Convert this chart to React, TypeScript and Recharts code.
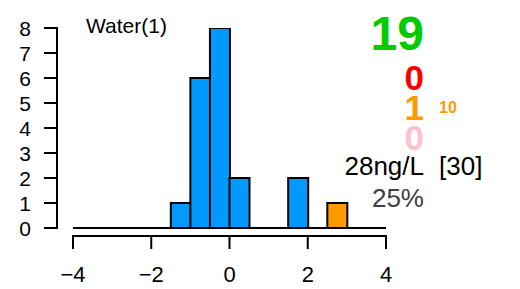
import { Bar, BarChart, Cell, ReferenceLine, XAxis, YAxis } from 'recharts';

// ----------------------
// DATA
// ----------------------
const binStarts = [-4, -3.5, -3, -2.5, -2, -1.5, -1, -0.5, 0, 0.5, 1, 1.5, 2, 2.5, 3, 3.5];
const binCounts = [0, 0, 0, 0, 0, 1, 6, 8, 2, 0, 0, 2, 0, 1, 0, 0];
const binKinds = ['n', 'n', 'n', 'n', 'n', 'n', 'n', 'n', 'n', 'n', 'n', 'n', 'n', 'o', 'n', 'n'];
const xTicks = [-4, -2, 0, 2, 4];
const yTicks = [0, 1, 2, 3, 4, 5, 6, 7, 8];

const title = 'Water(1)';
const totalCount = '19';
const redCount = '0';
const orangeCount = '1';
const orangeSub = '10';
const pinkCount = '0';
const concText = '28ng/L';
const bracketText = '[30]';
const pctText = '25%';

const KIND_COLORS: Record<string, string> = { n: '#0099ff', o: '#ff9900' };
const FONT = '"Liberation Sans", Arial, Helvetica, sans-serif';

// plot box (R-style: axes sit apart from the plot region)
const PLOT_LEFT = 73;
const PLOT_TOP = 28;
const PLOT_W = 313;
const PLOT_H = 200;
const Y_MAX = 8;
const AXIS_GAP_X = 8;
const AXIS_GAP_Y = 16;
const TICK_LEN = 13;

const data = binStarts.map((b, i) => ({ bin: b, count: binCounts[i], kind: binKinds[i] }));

const fmtX = (v: number) => (v < 0 ? `\u2212${Math.abs(v)}` : `${v}`);

// x tick: tick mark + label, tick -4 also draws the axis line
const XTick = ({ x, y, payload }: any) => {
  const ay = Number(y) + AXIS_GAP_X;
  const tx = Number(x);
  return (
    <g>
      {payload.value === xTicks[0] && <rect x={tx - 1} y={ay - 1} width={PLOT_W + 2} height={2} fill="#000" />}
      <rect x={tx - 1} y={ay} width={2} height={TICK_LEN} fill="#000" />
      <text x={tx} y={ay + 46} textAnchor="middle" fontSize={22} fontFamily={FONT} fill="#000">
        {fmtX(payload.value)}
      </text>
    </g>
  );
};

// y tick: tick mark + label, tick 0 also draws the axis line
const YTick = ({ x, y, payload }: any) => {
  const ax = Number(x) - AXIS_GAP_Y;
  const ty = Number(y);
  return (
    <g>
      {payload.value === 0 && <rect x={ax - 1} y={ty - PLOT_H - 1} width={2} height={PLOT_H + 2} fill="#000" />}
      <rect x={ax - TICK_LEN} y={ty - 1} width={TICK_LEN} height={2} fill="#000" />
      <text x={ax - 26} y={ty + 7.5} textAnchor="end" fontSize={21} fontFamily={FONT} fill="#000">
        {payload.value}
      </text>
    </g>
  );
};

const yAxisX = PLOT_LEFT - AXIS_GAP_Y;
const yPos = (v: number) => PLOT_TOP + ((Y_MAX - v) / Y_MAX) * PLOT_H;

export default function App() {
  return (
    <div style={{ position: 'absolute', left: 0, top: 0, width: 520, height: 289, background: '#fff', fontFamily: FONT }}>
      <BarChart
        width={520}
        height={289}
        data={data}
        barCategoryGap={0}
        barGap={0}
        margin={{ top: PLOT_TOP, right: 520 - PLOT_LEFT - PLOT_W, left: 0, bottom: 31 }}
      >
        <XAxis
          xAxisId="num"
          dataKey="bin"
          type="number"
          domain={[-4, 4]}
          ticks={xTicks}
          allowDataOverflow
          height={30}
          tickSize={0}
          tickMargin={0}
          axisLine={false}
          tickLine={false}
          tick={<XTick />}
          interval={0}
        />
        <XAxis xAxisId="bins" dataKey="bin" type="category" hide height={0} />
        <YAxis
          domain={[0, Y_MAX]}
          ticks={yTicks}
          allowDataOverflow
          width={PLOT_LEFT}
          tickSize={0}
          tickMargin={0}
          axisLine={false}
          tickLine={false}
          tick={<YTick />}
          interval={0}
        />
        <ReferenceLine y={0} xAxisId="bins" stroke="#000" strokeWidth={2} />
        <Bar dataKey="count" xAxisId="bins" stroke="#000" strokeWidth={2} isAnimationActive={false}>
          {data.map((d, i) => (
            <Cell key={`c-${i}`} fill={KIND_COLORS[d.kind]} />
          ))}
        </Bar>
      </BarChart>
      <svg width={520} height={289} style={{ position: 'absolute', left: 0, top: 0, pointerEvents: 'none' }}>
        <rect x={yAxisX - 1} y={yPos(Y_MAX) - 1} width={2} height={PLOT_H + 2} fill="#000" />
        {yTicks.map((v) => (
          <rect key={`yt-${v}`} x={yAxisX - TICK_LEN} y={yPos(v) - 1} width={TICK_LEN} height={2} fill="#000" />
        ))}
        <g fontFamily={FONT}>
          <text x={86} y={33} fontSize={21} fill="#000">{title}</text>
          <text x={424} y={50} fontSize={48} fontWeight="bold" fill="#00cc00" textAnchor="end">{totalCount}</text>
          <text x={424} y={90} fontSize={35} fontWeight="bold" fill="#ff0000" textAnchor="end">{redCount}</text>
          <text x={424} y={120} fontSize={35} fontWeight="bold" fill="#ff9900" textAnchor="end">{orangeCount}</text>
          <text x={439} y={113} fontSize={16} fontWeight="bold" fill="#ff9900">{orangeSub}</text>
          <text x={424} y={150} fontSize={35} fontWeight="bold" fill="#ffc0cb" textAnchor="end">{pinkCount}</text>
          <text x={424} y={175} fontSize={26} fill="#000" textAnchor="end">{concText}</text>
          <text x={439} y={175} fontSize={26} fill="#000">{bracketText}</text>
          <text x={424} y={207} fontSize={26} fill="#404040" textAnchor="end">{pctText}</text>
        </g>
      </svg>
    </div>
  );
}
